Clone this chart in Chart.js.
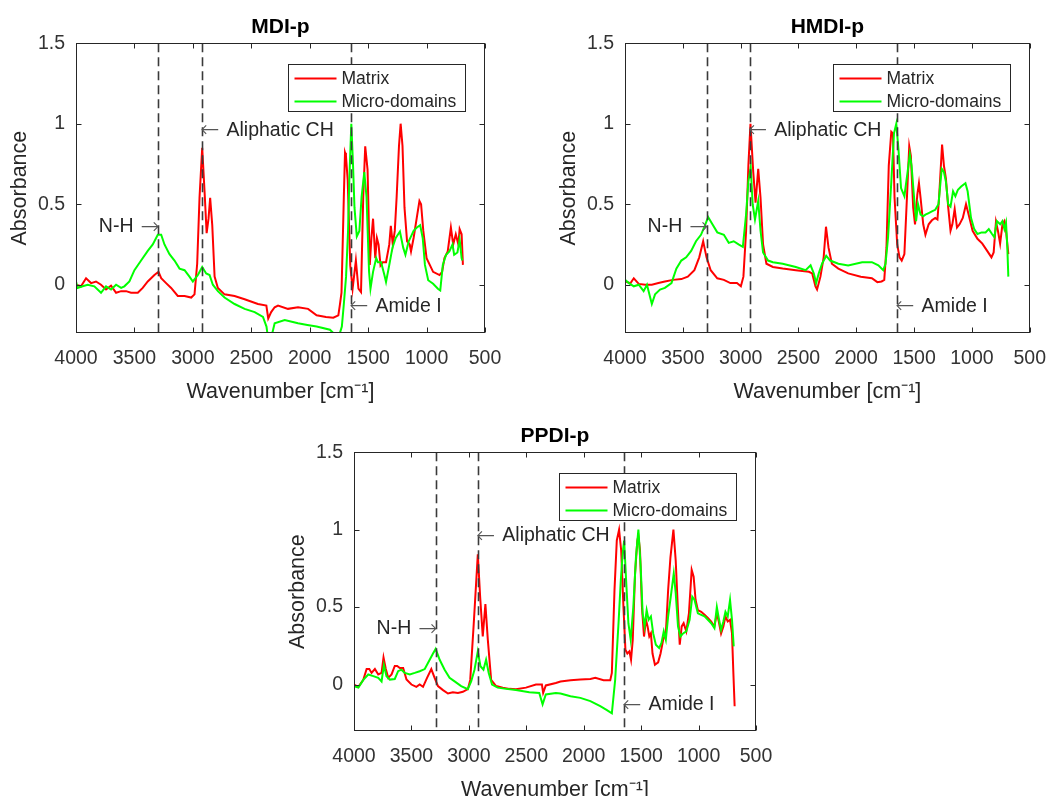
<!DOCTYPE html>
<html>
<head>
<meta charset="utf-8">
<title>FTIR spectra</title>
<script src="https://cdn.jsdelivr.net/npm/chart.js@4.4.1/dist/chart.umd.min.js"></script>
<style>
	body { margin: 0; background: #fff; width: 1060px; height: 796px; position: relative; overflow: hidden; }
	canvas { position: absolute; }
</style>
</head>
<body>
<canvas id="mdiChart"></canvas>
<canvas id="hmdiChart"></canvas>
<canvas id="ppdiChart"></canvas>
<script>
"use strict";

const seriesLabels = ["Matrix", "Micro-domains"];
const xTickValues = [4000, 3500, 3000, 2500, 2000, 1500, 1000, 500];
const yTickValues = [0, 0.5, 1, 1.5];

// MDI-p
const mdiMatrixWn = [4000, 3957, 3914, 3871, 3829, 3786, 3743, 3700, 3657, 3614, 3571, 3529, 3471, 3429, 3386, 3329, 3294, 3271, 3229, 3186, 3129, 3071, 3014, 2986, 2963, 2943, 2920, 2900, 2882, 2866, 2852, 2834, 2814, 2786, 2729, 2643, 2557, 2443, 2371, 2355, 2330, 2300, 2271, 2186, 2100, 2014, 1941, 1861, 1798, 1755, 1741, 1728, 1708, 1698, 1690, 1675, 1653, 1633, 1605, 1583, 1561, 1542, 1525, 1505, 1486, 1472, 1458, 1439, 1425, 1411, 1394, 1375, 1347, 1319, 1306, 1289, 1272, 1256, 1236, 1222, 1206, 1189, 1167, 1144, 1133, 1111, 1083, 1061, 1047, 1028, 1000, 944, 889, 867, 847, 819, 792, 772, 750, 728, 717, 700, 689];
const mdiMatrixAbs = [0, -0.01, 0.04, 0.01, 0.02, 0, -0.03, -0.006, -0.05, -0.04, -0.04, -0.05, -0.05, -0.02, 0.02, 0.06, 0.08, 0.04, 0.01, -0.02, -0.07, -0.07, -0.08, -0.06, 0.13, 0.54, 0.85, 0.58, 0.32, 0.41, 0.54, 0.37, 0.05, -0.02, -0.06, -0.07, -0.09, -0.12, -0.13, -0.21, -0.17, -0.14, -0.13, -0.15, -0.14, -0.15, -0.19, -0.2, -0.205, -0.19, -0.12, -0.05, 0.546, 0.82, 0.8, 0.65, 0.12, -0.025, 0.15, -0.025, -0.046, 0.546, 0.86, 0.715, 0.123, 0.29, 0.41, 0.165, 0.29, 0.25, 0.12, 0.14, 0.14, 0.25, 0.366, 0.25, 0.334, 0.546, 0.863, 1.0, 0.863, 0.48, 0.27, 0.25, 0.207, 0.29, 0.42, 0.52, 0.5, 0.334, 0.165, 0.08, 0.06, 0.08, 0.165, 0.207, 0.355, 0.25, 0.313, 0.25, 0.345, 0.313, 0.123];
const mdiMicroWn = [4000, 3986, 3943, 3900, 3843, 3786, 3743, 3700, 3657, 3614, 3586, 3543, 3500, 3443, 3386, 3343, 3300, 3271, 3243, 3200, 3157, 3114, 3071, 3029, 3000, 2957, 2920, 2886, 2857, 2829, 2786, 2729, 2643, 2557, 2471, 2400, 2370, 2355, 2330, 2300, 2214, 2100, 2020, 1941, 1827, 1770, 1750, 1725, 1708, 1689, 1672, 1661, 1644, 1630, 1617, 1597, 1575, 1556, 1533, 1514, 1492, 1480, 1458, 1431, 1417, 1389, 1361, 1347, 1319, 1292, 1264, 1228, 1200, 1181, 1153, 1133, 1111, 1083, 1055, 1033, 1014, 986, 944, 903, 883, 861, 833, 805, 778, 764, 736, 717, 700, 694];
const mdiMicroAbs = [0.02, -0.02, -0.01, 0, -0.01, -0.05, -0.01, -0.03, 0, -0.02, -0.01, 0.02, 0.09, 0.15, 0.21, 0.25, 0.31, 0.31, 0.25, 0.19, 0.15, 0.1, 0.09, 0.05, 0.02, 0.06, 0.11, 0.07, 0.06, 0, -0.04, -0.08, -0.12, -0.15, -0.17, -0.2, -0.26, -0.34, -0.33, -0.24, -0.22, -0.24, -0.25, -0.26, -0.28, -0.32, -0.32, -0.26, -0.12, 0.05, 0.334, 0.65, 1.0, 0.757, 0.48, 0.3, 0.334, 0.546, 0.7, 0.546, 0.08, -0.025, 0.08, 0.165, 0.14, 0.14, 0.06, 0.017, 0.123, 0.23, 0.29, 0.33, 0.23, 0.186, 0.27, 0.3, 0.334, 0.355, 0.37, 0.29, 0.123, 0.028, 0.006, -0.025, -0.036, 0.123, 0.186, 0.207, 0.25, 0.186, 0.2, 0.28, 0.165, 0.15];

// HMDI-p
const hmdiMatrixWn = [4000, 3952, 3924, 3881, 3825, 3768, 3711, 3655, 3584, 3513, 3457, 3400, 3358, 3324, 3295, 3259, 3202, 3145, 3089, 3032, 2998, 2976, 2953, 2933, 2915, 2891, 2871, 2848, 2828, 2806, 2777, 2721, 2636, 2523, 2410, 2381, 2353, 2339, 2310, 2282, 2262, 2240, 2211, 2155, 2070, 1961, 1865, 1818, 1781, 1758, 1739, 1719, 1697, 1683, 1669, 1646, 1626, 1607, 1584, 1562, 1542, 1528, 1508, 1492, 1472, 1458, 1444, 1421, 1402, 1374, 1346, 1317, 1298, 1284, 1258, 1242, 1225, 1205, 1185, 1169, 1149, 1129, 1107, 1079, 1051, 1028, 994, 952, 910, 868, 831, 812, 792, 775, 756, 736, 719, 705, 685];
const hmdiMatrixAbs = [0.02, 0.01, 0.04, 0.005, 0, 0, 0.01, 0.02, 0.03, 0.035, 0.05, 0.09, 0.17, 0.27, 0.17, 0.09, 0.04, 0.03, 0.01, 0.01, -0.01, 0.05, 0.33, 0.74, 1.0, 0.7, 0.51, 0.72, 0.54, 0.25, 0.13, 0.11, 0.1, 0.09, 0.08, 0.07, -0.01, -0.03, 0.05, 0.17, 0.36, 0.23, 0.13, 0.1, 0.07, 0.05, 0.04, 0.016, 0.02, 0.03, 0.23, 0.74, 0.95, 0.94, 0.54, 0.25, 0.17, 0.15, 0.19, 0.54, 0.86, 0.8, 0.48, 0.375, 0.56, 0.63, 0.54, 0.375, 0.31, 0.375, 0.4, 0.415, 0.405, 0.54, 0.87, 0.74, 0.66, 0.48, 0.335, 0.375, 0.47, 0.355, 0.375, 0.415, 0.5, 0.435, 0.335, 0.285, 0.255, 0.21, 0.17, 0.2, 0.39, 0.335, 0.255, 0.375, 0.395, 0.335, 0.19];
const hmdiMicroWn = [4000, 3966, 3924, 3881, 3839, 3810, 3768, 3740, 3697, 3655, 3598, 3556, 3513, 3471, 3428, 3386, 3343, 3310, 3281, 3244, 3202, 3145, 3103, 3060, 3018, 2981, 2953, 2933, 2913, 2896, 2876, 2848, 2828, 2806, 2763, 2721, 2636, 2523, 2438, 2395, 2367, 2347, 2325, 2296, 2260, 2226, 2155, 2070, 1949, 1865, 1809, 1767, 1747, 1725, 1697, 1674, 1654, 1635, 1613, 1584, 1556, 1537, 1522, 1500, 1483, 1466, 1444, 1421, 1402, 1374, 1346, 1317, 1289, 1261, 1242, 1225, 1205, 1185, 1163, 1143, 1121, 1093, 1056, 1037, 1008, 980, 952, 916, 882, 854, 826, 806, 784, 756, 736, 719, 705, 694, 685];
const hmdiMicroAbs = [0.03, 0.01, -0.01, 0, -0.04, 0, -0.12, -0.06, -0.03, -0.02, 0.01, 0.1, 0.15, 0.17, 0.21, 0.27, 0.31, 0.365, 0.42, 0.375, 0.325, 0.31, 0.26, 0.27, 0.25, 0.235, 0.435, 0.64, 0.73, 0.5, 0.405, 0.52, 0.335, 0.2, 0.15, 0.14, 0.13, 0.11, 0.09, 0.12, 0.07, 0.01, 0.07, 0.13, 0.18, 0.15, 0.13, 0.12, 0.14, 0.14, 0.12, 0.09, 0.13, 0.295, 0.64, 0.94, 1.0, 0.84, 0.6, 0.55, 0.7, 0.81, 0.74, 0.54, 0.395, 0.5, 0.435, 0.425, 0.435, 0.445, 0.455, 0.465, 0.5, 0.72, 0.7, 0.64, 0.5, 0.485, 0.58, 0.55, 0.59, 0.61, 0.63, 0.58, 0.415, 0.345, 0.315, 0.325, 0.325, 0.345, 0.315, 0.295, 0.395, 0.375, 0.395, 0.345, 0.385, 0.235, 0.05];

// PPDI-p
const ppdiMatrixWn = [4000, 3962, 3919, 3890, 3867, 3847, 3818, 3789, 3760, 3743, 3723, 3702, 3673, 3645, 3624, 3601, 3572, 3543, 3500, 3457, 3428, 3399, 3364, 3327, 3298, 3269, 3225, 3182, 3139, 3095, 3052, 3009, 2988, 2959, 2922, 2902, 2879, 2856, 2835, 2806, 2763, 2705, 2647, 2590, 2503, 2416, 2364, 2353, 2330, 2243, 2202, 2115, 2029, 1942, 1899, 1827, 1769, 1755, 1732, 1712, 1692, 1674, 1654, 1637, 1620, 1602, 1588, 1573, 1553, 1533, 1524, 1510, 1493, 1475, 1458, 1444, 1429, 1415, 1401, 1380, 1352, 1331, 1308, 1285, 1265, 1245, 1219, 1199, 1181, 1164, 1147, 1130, 1107, 1084, 1060, 1043, 1026, 1006, 977, 948, 919, 890, 862, 841, 824, 804, 784, 766, 746, 726, 709, 697, 686];
const ppdiMatrixAbs = [0, -0.015, 0.03, 0.1, 0.1, 0.075, 0.1, 0.065, 0.075, 0.175, 0.1, 0.043, 0.065, 0.12, 0.12, 0.107, 0.107, 0.032, 0, -0.015, 0, -0.015, 0.043, 0.1, 0.043, -0.01, -0.036, -0.058, -0.05, -0.054, -0.047, -0.03, 0.03, 0.375, 0.84, 0.57, 0.31, 0.52, 0.29, 0.03, -0.01, -0.02, -0.028, -0.03, -0.02, 0, 0, -0.054, -0.006, 0.01, 0.02, 0.028, 0.032, 0.036, 0.043, 0.028, 0.028, 0.075, 0.61, 0.93, 1.0, 0.867, 0.5, 0.225, 0.2, 0.214, 0.16, 0.29, 0.717, 0.93, 0.96, 0.867, 0.5, 0.31, 0.418, 0.375, 0.31, 0.33, 0.2, 0.128, 0.143, 0.2, 0.29, 0.33, 0.61, 0.82, 1.0, 0.8, 0.5, 0.257, 0.375, 0.396, 0.343, 0.46, 0.74, 0.696, 0.546, 0.48, 0.47, 0.45, 0.43, 0.407, 0.375, 0.46, 0.407, 0.33, 0.375, 0.44, 0.407, 0.418, 0.33, 0.075, -0.14];
const ppdiMicroWn = [4000, 3962, 3919, 3876, 3832, 3789, 3760, 3740, 3717, 3688, 3645, 3616, 3587, 3558, 3514, 3471, 3428, 3384, 3341, 3312, 3289, 3254, 3211, 3168, 3124, 3067, 3009, 2980, 2951, 2922, 2899, 2873, 2850, 2827, 2798, 2749, 2676, 2590, 2474, 2387, 2358, 2330, 2243, 2202, 2115, 2029, 1942, 1856, 1798, 1755, 1726, 1697, 1677, 1660, 1648, 1631, 1611, 1591, 1568, 1545, 1524, 1504, 1487, 1470, 1452, 1435, 1415, 1395, 1372, 1343, 1323, 1303, 1285, 1265, 1242, 1216, 1199, 1179, 1158, 1135, 1107, 1078, 1055, 1035, 1006, 977, 948, 919, 890, 862, 841, 824, 804, 784, 766, 746, 726, 709, 694];
const ppdiMicroAbs = [-0.01, -0.02, 0.03, 0.065, 0.054, 0.043, 0.02, 0.125, 0.054, 0.032, 0.036, 0.086, 0.096, 0.075, 0.065, 0.075, 0.086, 0.1, 0.16, 0.2, 0.23, 0.16, 0.096, 0.043, 0.02, -0.01, -0.03, 0.02, 0.096, 0.214, 0.118, 0.096, 0.16, 0.075, 0, -0.02, -0.028, -0.036, -0.05, -0.054, -0.128, -0.064, -0.054, -0.058, -0.075, -0.086, -0.107, -0.14, -0.165, -0.186, 0.032, 0.396, 0.675, 0.85, 0.93, 0.675, 0.396, 0.29, 0.5, 0.824, 1.0, 0.76, 0.46, 0.375, 0.48, 0.418, 0.44, 0.33, 0.257, 0.236, 0.268, 0.343, 0.29, 0.44, 0.567, 0.717, 0.59, 0.375, 0.31, 0.33, 0.343, 0.418, 0.567, 0.546, 0.46, 0.45, 0.44, 0.418, 0.396, 0.364, 0.5, 0.428, 0.353, 0.407, 0.47, 0.44, 0.546, 0.418, 0.246];

// band markers: wavenumber of the dashed line, height of the label
const mdiBands = [
	{ wn: 3300, y: 0.36, label: "N-H", side: "left" },
	{ wn: 2920, y: 0.96, label: "Aliphatic CH", side: "right" },
	{ wn: 1645, y: -0.135, label: "Amide I", side: "right" }
];
const hmdiBands = [
	{ wn: 3295, y: 0.36, label: "N-H", side: "left" },
	{ wn: 2920, y: 0.96, label: "Aliphatic CH", side: "right" },
	{ wn: 1645, y: -0.135, label: "Amide I", side: "right" }
];
const ppdiBands = [
	{ wn: 3290, y: 0.36, label: "N-H", side: "left" },
	{ wn: 2920, y: 0.96, label: "Aliphatic CH", side: "right" },
	{ wn: 1648, y: -0.13, label: "Amide I", side: "right" }
];

const FONT = "'Liberation Sans', Arial, Helvetica, sans-serif";
const LABEL_FONT = "19.5px " + FONT;
const ARROW_FONT = "200 23px 'DejaVu Sans', sans-serif";
const AXIS_COLOR = "#262626";
const seriesColors = ["#ff0000", "#00ff00"];

Chart.defaults.font.family = FONT;
Chart.defaults.color = AXIS_COLOR;

function toPoints(wn, abs) {
	return wn.map((w, i) => ({ x: w, y: abs[i] }));
}

// MATLAB-like box, inward ticks, dashed band lines and the boxed legend
const matlabPlugin = {
	id: "matlab",
	afterDatasetsDraw(chart, args, opts) {
		const { ctx, chartArea } = chart;
		const xs = chart.scales.x;
		const ys = chart.scales.y;
		ctx.save();
		ctx.strokeStyle = "#3a3a3a";
		ctx.lineWidth = 1.6;
		ctx.setLineDash([9, 5]);
		opts.bands.forEach(b => {
			const x = Math.round(xs.getPixelForValue(b.wn)) + 0.5;
			ctx.beginPath();
			ctx.moveTo(x, chartArea.top);
			ctx.lineTo(x, chartArea.bottom);
			ctx.stroke();
		});
		ctx.setLineDash([]);
		ctx.textBaseline = "middle";
		opts.bands.forEach(b => {
			const x = xs.getPixelForValue(b.wn);
			const y = ys.getPixelForValue(b.y);
			const left = b.side === "left";
			const arrow = left ? "\u2192" : "\u2190";
			ctx.font = ARROW_FONT;
			const aw = ctx.measureText(arrow).width;
			ctx.fillStyle = "#555";
			ctx.textAlign = left ? "right" : "left";
			ctx.fillText(arrow, left ? x + 2 : x - 2, y + 1);
			ctx.font = LABEL_FONT;
			ctx.fillStyle = AXIS_COLOR;
			ctx.fillText(b.label, left ? x - aw - 5 : x + aw + 5, y);
		});
		ctx.restore();
	},
	afterDraw(chart) {
		const { ctx, chartArea } = chart;
		const xs = chart.scales.x;
		const ys = chart.scales.y;
		const l = Math.round(chartArea.left) + 0.5;
		const r = Math.round(chartArea.right) - 0.5;
		const t = Math.round(chartArea.top) + 0.5;
		const b = Math.round(chartArea.bottom) - 0.5;
		const tick = 5;
		ctx.save();
		ctx.strokeStyle = AXIS_COLOR;
		ctx.lineWidth = 1;
		ctx.strokeRect(l, t, r - l, b - t);
		ctx.beginPath();
		xTickValues.forEach(v => {
			const x = Math.round(xs.getPixelForValue(v)) + 0.5;
			ctx.moveTo(x, b); ctx.lineTo(x, b - tick);
			ctx.moveTo(x, t); ctx.lineTo(x, t + tick);
		});
		yTickValues.forEach(v => {
			const y = Math.round(ys.getPixelForValue(v)) + 0.5;
			ctx.moveTo(l, y); ctx.lineTo(l + tick, y);
			ctx.moveTo(r, y); ctx.lineTo(r - tick, y);
		});
		ctx.stroke();

		// legend
		const w = 177, h = 47;
		const lx = Math.round(chartArea.right - 20 - w) + 0.5;
		const ly = Math.round(chartArea.top + 21) + 0.5;
		ctx.fillStyle = "#fff";
		ctx.fillRect(lx, ly, w, h);
		ctx.strokeStyle = AXIS_COLOR;
		ctx.strokeRect(lx, ly, w, h);
		ctx.font = "17.5px " + FONT;
		ctx.textBaseline = "middle";
		ctx.textAlign = "left";
		chart.data.datasets.forEach((ds, i) => {
			const rowY = ly + 14 + i * 23;
			ctx.strokeStyle = ds.borderColor;
			ctx.lineWidth = 2;
			ctx.beginPath();
			ctx.moveTo(lx + 6, rowY);
			ctx.lineTo(lx + 48, rowY);
			ctx.stroke();
			ctx.fillStyle = AXIS_COLOR;
			ctx.fillText(ds.label, lx + 53, rowY + 1);
		});
		ctx.restore();
	}
};

function makePanel(id, title, matrix, micro, bands, box) {
	const canvas = document.getElementById(id);
	canvas.width = box.width;
	canvas.height = box.height;
	canvas.style.left = box.left + "px";
	canvas.style.top = box.top + "px";
	return new Chart(canvas, {
		type: "line",
		data: {
			datasets: [
				{ label: seriesLabels[0], data: matrix, borderColor: seriesColors[0], order: 2 },
				{ label: seriesLabels[1], data: micro, borderColor: seriesColors[1], order: 1 }
			].map(ds => Object.assign(ds, { borderWidth: 2, pointRadius: 0, tension: 0, fill: false, clip: 0 }))
		},
		options: {
			responsive: false,
			animation: false,
			events: [],
			layout: { padding: { left: 0, top: 0, right: box.padRight, bottom: 0 } },
			plugins: {
				legend: { display: false },
				tooltip: { enabled: false },
				title: {
					display: true,
					text: title,
					fullSize: false,
					color: "#000",
					font: { size: 21, weight: "bold" },
					padding: { top: 15, bottom: 3 }
				},
				matlab: { bands: bands }
			},
			scales: {
				x: {
					type: "linear",
					reverse: true,
					min: 500,
					max: 4000,
					afterBuildTicks: s => { s.ticks = xTickValues.map(v => ({ value: v })); },
					afterFit: s => { s.height = 77; },
					grid: { display: false, drawTicks: false, tickLength: 0 },
					border: { display: false },
					ticks: {
						autoSkip: false,
						maxRotation: 0,
						minRotation: 0,
						padding: 14,
						color: "#333",
						font: { size: 19.5 },
						callback: v => String(v)
					},
					title: {
						display: true,
						text: "Wavenumber [cm\u207B\u00B9]",
						color: AXIS_COLOR,
						font: { size: 21.5 },
						padding: { top: 0, bottom: 5 }
					}
				},
				y: {
					type: "linear",
					min: -0.3,
					max: 1.5,
					afterBuildTicks: s => { s.ticks = yTickValues.map(v => ({ value: v })); },
					afterFit: s => { s.width = 76; },
					grid: { display: false, drawTicks: false, tickLength: 0 },
					border: { display: false },
					ticks: {
						padding: 11,
						color: "#333",
						font: { size: 19.5 },
						callback: v => String(v)
					},
					title: {
						display: true,
						text: "Absorbance",
						color: AXIS_COLOR,
						font: { size: 21.5 },
						padding: { top: 7, bottom: 0 }
					}
				}
			}
		},
		plugins: [matlabPlugin]
	});
}

makePanel("mdiChart", "MDI-p", toPoints(mdiMatrixWn, mdiMatrixAbs), toPoints(mdiMicroWn, mdiMicroAbs), mdiBands,
	{ left: 0, top: 0, width: 530, height: 410, padRight: 45 });
makePanel("hmdiChart", "HMDI-p", toPoints(hmdiMatrixWn, hmdiMatrixAbs), toPoints(hmdiMicroWn, hmdiMicroAbs), hmdiBands,
	{ left: 549, top: 0, width: 511, height: 410, padRight: 26 });
makePanel("ppdiChart", "PPDI-p", toPoints(ppdiMatrixWn, ppdiMatrixAbs), toPoints(ppdiMicroWn, ppdiMicroAbs), ppdiBands,
	{ left: 278, top: 409, width: 523, height: 399, padRight: 45 });
</script>
</body>
</html>
